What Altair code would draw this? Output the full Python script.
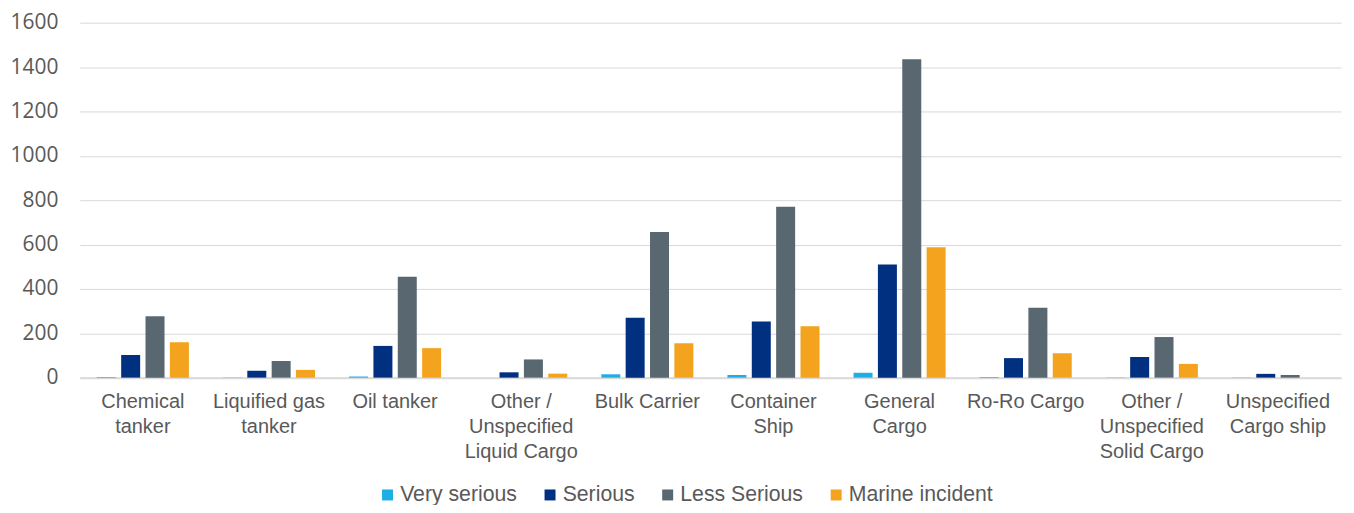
import altair as alt
import pandas as pd

categories = ["Chemical|tanker", "Liquified gas|tanker", "Oil tanker",
              "Other /|Unspecified|Liquid Cargo", "Bulk Carrier", "Container|Ship",
              "General|Cargo", "Ro-Ro Cargo", "Other /|Unspecified|Solid Cargo",
              "Unspecified|Cargo ship"]
series = ["Very serious", "Serious", "Less Serious", "Marine incident"]
very_serious = [3, 1, 5, 0, 15, 12, 22, 3, 1, 1]
serious = [102, 31, 143, 24, 270, 253, 510, 88, 93, 17]
less_serious = [277, 75, 455, 82, 657, 770, 1435, 315, 183, 12]
marine_incident = [160, 35, 133, 18, 155, 232, 588, 110, 62, 0]
colors = ["#1DAEE5", "#00307F", "#596770", "#F3A31E"]

rows = []
for vals, s in zip([very_serious, serious, less_serious, marine_incident], series):
    for c, v in zip(categories, vals):
        rows.append({"category": c, "series": s, "value": v})
df = pd.DataFrame(rows)

chart = alt.Chart(df).mark_bar().encode(
    x=alt.X("category:N", sort=categories, title=None,
            scale=alt.Scale(paddingInner=0.27, paddingOuter=0.135),
            axis=alt.Axis(labelAngle=0, labelExpr="split(datum.label, '|')",
                          labelFont="Liberation Sans", labelFontSize=20, labelColor="#595959",
                          labelLineHeight=25, labelPadding=14, ticks=False,
                          domainColor="#d9d9d9", domainWidth=2, grid=False,
                          labelBaseline="top")),
    xOffset=alt.XOffset("series:N", sort=series, scale=alt.Scale(paddingInner=0.22)),
    y=alt.Y("value:Q", title=None,
            scale=alt.Scale(domain=[0, 1600]),
            axis=alt.Axis(values=list(range(0, 1601, 200)), format="d", labelFont="Open Sans",
                          labelFontSize=21, labelColor="#595959", labelPadding=22,
                          ticks=False, domain=False, gridColor="#d9d9d9", gridWidth=1)),
    color=alt.Color("series:N", sort=series,
                    scale=alt.Scale(domain=series, range=colors),
                    legend=alt.Legend(orient="none", legendX=298, legendY=463,
                                      direction="horizontal", title=None,
                                      symbolType="square", symbolSize=121,
                                      symbolStrokeWidth=0,
                                      labelFont="Liberation Sans", labelFontSize=21.3,
                                      labelColor="#595959", columnPadding=22,
                                      labelOffset=2)),
).properties(width=1265, height=356,
             autosize=alt.AutoSizeParams(type="none"),
             padding={"left": 72, "top": 14, "right": 5, "bottom": 127}
).configure_view(stroke=None)

chart.save("out.html", embed_options={"renderer": "svg", "actions": False})
